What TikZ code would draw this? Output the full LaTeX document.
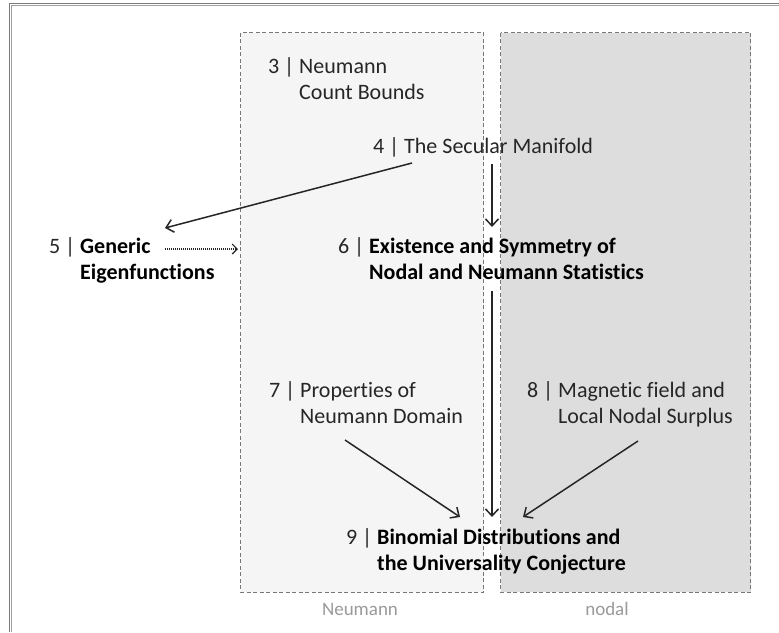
\documentclass[tikz,border=0pt]{standalone}
\usepackage{fontspec}
\setmainfont[Ligatures={NoCommon}]{Carlito}
\usetikzlibrary{arrows.meta,calc}
\definecolor{txt}{HTML}{262626}
\definecolor{frameA}{HTML}{7A7A7A}
\definecolor{frameB}{HTML}{A0A0A0}
\definecolor{neufill}{HTML}{F5F5F5}
\definecolor{nodfill}{HTML}{DDDDDD}
\definecolor{boxline}{HTML}{777777}
\definecolor{cap}{HTML}{9A9A9A}
\newcommand{\tb}[1]{\begin{tabular}[t]{@{}l@{}}#1\end{tabular}}
\begin{document}
\begin{tikzpicture}[x=1pt,y=-1pt,
  lbl/.style={anchor=base west, inner sep=0pt, outer sep=0pt, font=\fontsize{22}{26}\selectfont, text=txt},
  region/.style={draw=boxline, line width=0.9pt, dash pattern=on 4pt off 2.5pt},
  caption/.style={anchor=base, inner sep=0pt, font=\fontsize{19}{23}\selectfont, text=cap},
  arr/.style={draw=txt, line width=1.5pt, -{Straight Barb[length=7pt,width=13pt,line width=1.5pt]}},
  dotarr/.style={draw=txt, line width=1.2pt, dash pattern=on 1pt off 1pt, -{Straight Barb[length=5pt,width=10pt,line width=1.2pt]}}
]
\useasboundingbox (0,0) rectangle (779,632);
\fill[white] (0,0) rectangle (779,632);
% outer frame (top and left)
\draw[frameA, line width=1.2pt] (9.5,632) -- (9.5,3.2) -- (779,3.2);
\draw[frameB, line width=0.8pt] (11.4,632) -- (11.4,5.2) -- (779,5.2);
% regions
\path[region, fill=neufill] (240.5,32.5) rectangle (483.5,592) coordinate (neuBR);
\path[region, fill=nodfill] (500.5,32.5) rectangle (750.8,592) coordinate (nodBR);
\node[caption] (capNeu) at (360,615) {Neumann};
\node[caption] (capNod) at (607,615) {nodal};
% text nodes
\node[lbl] (n3) at (268,73.5) {3 | \tb{Neumann\\Count Bounds}};
\node[lbl] (n4) at (373,153) {4 | The Secular Manifold};
\node[lbl] (n5) at (49,253) {5 | \tb{\bfseries\color{black}Generic\\\bfseries\color{black}Eigenfunctions}};
\node[lbl] (n6) at (338,253) {6 | \tb{\bfseries\color{black}Existence and Symmetry of\\\bfseries\color{black}Nodal and Neumann Statistics}};
\node[lbl] (n7) at (269,397) {7 | \tb{Properties of\\Neumann Domain}};
\node[lbl] (n8) at (527,397) {8 | \tb{Magnetic field and\\Local Nodal Surplus}};
\node[lbl] (n9) at (346,544) {9 | \tb{\bfseries\color{black}Binomial Distributions and\\\bfseries\color{black}the Universality Conjecture}};
% connector end points
\coordinate (neuL) at (238,249);
% connectors
\draw[arr] ($(n4.base west)+(39,10)$) -- ($(n5.base west)+(116,-25)$);
\draw[arr] ($(n4.base west)+(119,11)$) -- ($(n6.base west)+(154,-26)$);
\draw[dotarr] ($(n5.base west)+(116,-4)$) -- (neuL);
\draw[arr] ($(n6.base west)+(154,38)$) -- ($(n9.base west)+(146,-27)$);
\draw[arr] ($(n7.base west)+(76,43)$) -- ($(n9.base west)+(114,-27)$);
\draw[arr] ($(n8.base west)+(111,44)$) -- ($(n9.base west)+(177,-27)$);
\end{tikzpicture}
\end{document}
